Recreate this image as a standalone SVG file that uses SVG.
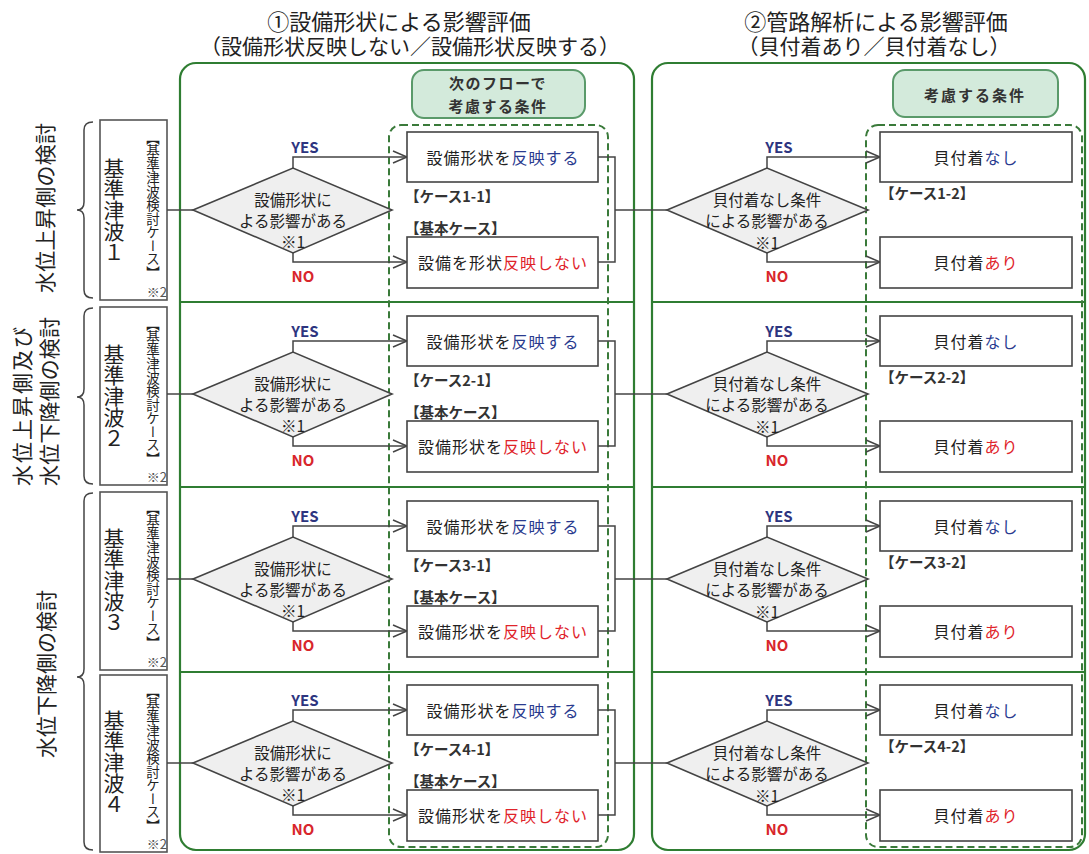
<svg xmlns="http://www.w3.org/2000/svg" width="1089" height="854" viewBox="0 0 1089 854">
<defs>
<style>
text{font-family:"Noto Sans CJK JP","Noto Sans",sans-serif;fill:#222;}
.title{font-size:22px;text-anchor:middle;}
.sub{font-size:21px;text-anchor:middle;}
.panel{fill:none;stroke:#2f7d32;stroke-width:2.2;}
.sep{stroke:#2f7d32;stroke-width:2.2;}
.dash{fill:none;stroke:#3a7a3a;stroke-width:2;stroke-dasharray:7 4;}
.hdr{fill:#d3eadb;stroke:#5a9a6a;stroke-width:2;}
.hdrt{font-size:15px;font-weight:bold;text-anchor:middle;dominant-baseline:central;fill:#333;letter-spacing:1.5px;}
.lbox{fill:#fff;stroke:#555;stroke-width:1.6;}
.brace{fill:none;stroke:#444;stroke-width:1.5;}
.side{font-size:21px;dominant-baseline:central;}
.vbig{font-size:21px;writing-mode:vertical-rl;text-orientation:upright;text-anchor:middle;}
.vsm{font-size:13.5px;writing-mode:vertical-rl;text-orientation:upright;text-anchor:middle;}
.note{font-size:13px;fill:#555;text-anchor:end;}
.dia{fill:#efefef;stroke:#444;stroke-width:1.6;}
.dt{font-size:15.5px;text-anchor:middle;dominant-baseline:central;}
.box{fill:#fff;stroke:#444;stroke-width:1.6;}
.bt{font-size:16px;text-anchor:middle;dominant-baseline:central;letter-spacing:1px;}
.blue{fill:#2a3b8f;}
.red{fill:#e0242b;}
.case{font-size:14.5px;font-weight:bold;dominant-baseline:central;fill:#333;}
.yes{font-size:15px;font-weight:bold;fill:#2d3580;text-anchor:middle;}
.no{font-size:15px;font-weight:bold;fill:#d8262b;text-anchor:middle;}
.ln{fill:none;stroke:#444;stroke-width:1.5;}
.arr{fill:none;stroke:#444;stroke-width:1.5;marker-end:url(#chev);}
</style>
<marker id="chev" markerUnits="userSpaceOnUse" markerWidth="18" markerHeight="16" refX="15" refY="7" orient="auto">
<path d="M1,1 L15,7 L1,13" fill="none" stroke="#444" stroke-width="1.5"/>
</marker>
</defs>

<g id="titles">
<text class="title" x="399" y="30">①設備形状による影響評価</text>
<text class="sub" x="410" y="54">（設備形状反映しない／設備形状反映する）</text>
<text class="title" x="876" y="30">②管路解析による影響評価</text>
<text class="sub" x="874" y="54">（貝付着あり／貝付着なし）</text>
</g>

<g id="panels">
<rect class="panel" x="180" y="63" width="454" height="787" rx="16"/>
<rect class="panel" x="652" y="63" width="433" height="787" rx="16"/>
<line class="sep" x1="180" y1="302" x2="634" y2="302"/>
<line class="sep" x1="180" y1="487" x2="634" y2="487"/>
<line class="sep" x1="180" y1="672" x2="634" y2="672"/>
<line class="sep" x1="652" y1="302" x2="1085" y2="302"/>
<line class="sep" x1="652" y1="487" x2="1085" y2="487"/>
<line class="sep" x1="652" y1="672" x2="1085" y2="672"/>
<rect class="dash" x="389" y="125" width="219" height="722" rx="12"/>
<rect class="dash" x="866" y="125" width="216" height="722" rx="12"/>
</g>

<g id="hdr-left">
<rect class="hdr" x="412" y="70" width="173" height="48" rx="12"/>
<text class="hdrt" x="498" y="82">次のフローで</text>
<text class="hdrt" x="498" y="105">考慮する条件</text>
</g>
<g id="hdr-right">
<rect class="hdr" x="893" y="70" width="165" height="47" rx="12"/>
<text class="hdrt" x="975" y="94" style="letter-spacing:2px">考慮する条件</text>
</g>

<g id="side-labels">
<path class="brace" d="M93,122 Q84,122 84,130 V202 Q84,210 77,210 Q84,210 84,218 V290 Q84,298 93,298"/>
<text class="side" transform="translate(44,293) rotate(-90)" textLength="170">水位上昇側の検討</text>
<path class="brace" d="M93,308 Q84,308 84,316 V389 Q84,397 77,397 Q84,397 84,405 V476 Q84,484 93,484"/>
<text class="side" transform="translate(21,486) rotate(-90)" textLength="159">水位上昇側及び</text>
<text class="side" transform="translate(48,486) rotate(-90)" textLength="169">水位下降側の検討</text>
<path class="brace" d="M93,493 Q84,493 84,501 V669 Q84,677 77,677 Q84,677 84,685 V842 Q84,850 93,850"/>
<text class="side" transform="translate(45,758) rotate(-90)" textLength="168">水位下降側の検討</text>
</g>

<g id="wave1">
<rect class="lbox" x="100" y="120" width="67" height="180"/>
<text class="vbig" x="114" y="210">基準津波１</text>
<text class="vsm" x="153" y="205">【基準津波検討ケース】</text>
<text class="note" x="167" y="297">※2</text>
</g>
<g id="wave2">
<rect class="lbox" x="100" y="307" width="67" height="178"/>
<text class="vbig" x="114" y="396">基準津波２</text>
<text class="vsm" x="153" y="391">【基準津波検討ケース】</text>
<text class="note" x="167" y="482">※2</text>
</g>
<g id="wave3">
<rect class="lbox" x="100" y="492" width="67" height="178"/>
<text class="vbig" x="114" y="580">基準津波３</text>
<text class="vsm" x="153" y="575">【基準津波検討ケース】</text>
<text class="note" x="167" y="667">※2</text>
</g>
<g id="wave4">
<rect class="lbox" x="100" y="675" width="67" height="177"/>
<text class="vbig" x="114" y="762">基準津波４</text>
<text class="vsm" x="153" y="758">【基準津波検討ケース】</text>
<text class="note" x="167" y="849">※2</text>
</g>

<g id="connectors">
<path class="ln" d="M167,210 H193"/>
<path class="arr" d="M293,168 V157 H407"/>
<path class="arr" d="M293,253 V262 H407"/>
<path class="ln" d="M598,157 H615 V262 H598 M615,210 H667"/>
<path class="arr" d="M767,168 V157 H880"/>
<path class="arr" d="M767,253 V262 H880"/>
<path class="ln" d="M167,394 H193"/>
<path class="arr" d="M293,352 V341 H407"/>
<path class="arr" d="M293,437 V446 H407"/>
<path class="ln" d="M598,341 H615 V446 H598 M615,394 H667"/>
<path class="arr" d="M767,352 V341 H880"/>
<path class="arr" d="M767,437 V446 H880"/>
<path class="ln" d="M167,579 H193"/>
<path class="arr" d="M293,537 V526 H407"/>
<path class="arr" d="M293,622 V631 H407"/>
<path class="ln" d="M598,526 H615 V631 H598 M615,579 H667"/>
<path class="arr" d="M767,537 V526 H880"/>
<path class="arr" d="M767,622 V631 H880"/>
<path class="ln" d="M167,763 H193"/>
<path class="arr" d="M293,721 V710 H407"/>
<path class="arr" d="M293,806 V815 H407"/>
<path class="ln" d="M598,710 H615 V815 H598 M615,763 H667"/>
<path class="arr" d="M767,721 V710 H880"/>
<path class="arr" d="M767,806 V815 H880"/>
</g>

<g id="labels">
<text class="yes" x="305" y="153">YES</text><text class="no" x="303" y="282">NO</text>
<text class="yes" x="779" y="153">YES</text><text class="no" x="777" y="282">NO</text>
<text class="yes" x="305" y="337">YES</text><text class="no" x="303" y="466">NO</text>
<text class="yes" x="779" y="337">YES</text><text class="no" x="777" y="466">NO</text>
<text class="yes" x="305" y="522">YES</text><text class="no" x="303" y="651">NO</text>
<text class="yes" x="779" y="522">YES</text><text class="no" x="777" y="651">NO</text>
<text class="yes" x="305" y="706">YES</text><text class="no" x="303" y="835">NO</text>
<text class="yes" x="779" y="706">YES</text><text class="no" x="777" y="835">NO</text>
</g>

<g id="dec1-1">
<polygon class="dia" points="193,210 293,168 392,210 293,253"/>
<text class="dt" x="293" y="199">設備形状に</text>
<text class="dt" x="293" y="220">よる影響がある</text>
<text class="dt" x="293" y="241">※1</text>
</g>
<g id="case1-1">
<rect class="box" x="407" y="132" width="191" height="50"/>
<text class="bt" x="503" y="157">設備形状を<tspan class="blue">反映する</tspan></text>
<text class="case" x="405" y="195">【ケース1-1】</text>
</g>
<g id="base1">
<text class="case" x="405" y="227">【基本ケース】</text>
<rect class="box" x="407" y="237" width="191" height="51"/>
<text class="bt" x="503" y="262">設備を形状<tspan class="red">反映しない</tspan></text>
</g>
<g id="dec1-2">
<polygon class="dia" points="667,210 767,168 868,210 767,253"/>
<text class="dt" x="767" y="199">貝付着なし条件</text>
<text class="dt" x="767" y="220">による影響がある</text>
<text class="dt" x="767" y="242">※1</text>
</g>
<g id="case1-2">
<rect class="box" x="880" y="132" width="192" height="50"/>
<text class="bt" x="976" y="157">貝付着<tspan class="blue">なし</tspan></text>
<text class="case" x="880" y="192">【ケース1-2】</text>
</g>
<g id="shell1">
<rect class="box" x="880" y="237" width="192" height="51"/>
<text class="bt" x="976" y="262">貝付着<tspan class="red">あり</tspan></text>
</g>

<g id="dec2-1">
<polygon class="dia" points="193,394 293,352 392,394 293,437"/>
<text class="dt" x="293" y="383">設備形状に</text>
<text class="dt" x="293" y="404">よる影響がある</text>
<text class="dt" x="293" y="425">※1</text>
</g>
<g id="case2-1">
<rect class="box" x="407" y="316" width="191" height="50"/>
<text class="bt" x="503" y="341">設備形状を<tspan class="blue">反映する</tspan></text>
<text class="case" x="405" y="379">【ケース2-1】</text>
</g>
<g id="base2">
<text class="case" x="405" y="411">【基本ケース】</text>
<rect class="box" x="407" y="421" width="191" height="51"/>
<text class="bt" x="503" y="446">設備形状を<tspan class="red">反映しない</tspan></text>
</g>
<g id="dec2-2">
<polygon class="dia" points="667,394 767,352 868,394 767,437"/>
<text class="dt" x="767" y="383">貝付着なし条件</text>
<text class="dt" x="767" y="404">による影響がある</text>
<text class="dt" x="767" y="426">※1</text>
</g>
<g id="case2-2">
<rect class="box" x="880" y="316" width="192" height="50"/>
<text class="bt" x="976" y="341">貝付着<tspan class="blue">なし</tspan></text>
<text class="case" x="880" y="376">【ケース2-2】</text>
</g>
<g id="shell2">
<rect class="box" x="880" y="421" width="192" height="51"/>
<text class="bt" x="976" y="446">貝付着<tspan class="red">あり</tspan></text>
</g>

<g id="dec3-1">
<polygon class="dia" points="193,579 293,537 392,579 293,622"/>
<text class="dt" x="293" y="568">設備形状に</text>
<text class="dt" x="293" y="589">よる影響がある</text>
<text class="dt" x="293" y="610">※1</text>
</g>
<g id="case3-1">
<rect class="box" x="407" y="501" width="191" height="50"/>
<text class="bt" x="503" y="526">設備形状を<tspan class="blue">反映する</tspan></text>
<text class="case" x="405" y="564">【ケース3-1】</text>
</g>
<g id="base3">
<text class="case" x="405" y="596">【基本ケース】</text>
<rect class="box" x="407" y="606" width="191" height="51"/>
<text class="bt" x="503" y="631">設備形状を<tspan class="red">反映しない</tspan></text>
</g>
<g id="dec3-2">
<polygon class="dia" points="667,579 767,537 868,579 767,622"/>
<text class="dt" x="767" y="568">貝付着なし条件</text>
<text class="dt" x="767" y="589">による影響がある</text>
<text class="dt" x="767" y="611">※1</text>
</g>
<g id="case3-2">
<rect class="box" x="880" y="501" width="192" height="50"/>
<text class="bt" x="976" y="526">貝付着<tspan class="blue">なし</tspan></text>
<text class="case" x="880" y="561">【ケース3-2】</text>
</g>
<g id="shell3">
<rect class="box" x="880" y="606" width="192" height="51"/>
<text class="bt" x="976" y="631">貝付着<tspan class="red">あり</tspan></text>
</g>

<g id="dec4-1">
<polygon class="dia" points="193,763 293,721 392,763 293,806"/>
<text class="dt" x="293" y="752">設備形状に</text>
<text class="dt" x="293" y="773">よる影響がある</text>
<text class="dt" x="293" y="794">※1</text>
</g>
<g id="case4-1">
<rect class="box" x="407" y="685" width="191" height="50"/>
<text class="bt" x="503" y="710">設備形状を<tspan class="blue">反映する</tspan></text>
<text class="case" x="405" y="748">【ケース4-1】</text>
</g>
<g id="base4">
<text class="case" x="405" y="780">【基本ケース】</text>
<rect class="box" x="407" y="790" width="191" height="51"/>
<text class="bt" x="503" y="815">設備形状を<tspan class="red">反映しない</tspan></text>
</g>
<g id="dec4-2">
<polygon class="dia" points="667,763 767,721 868,763 767,806"/>
<text class="dt" x="767" y="752">貝付着なし条件</text>
<text class="dt" x="767" y="773">による影響がある</text>
<text class="dt" x="767" y="795">※1</text>
</g>
<g id="case4-2">
<rect class="box" x="880" y="685" width="192" height="50"/>
<text class="bt" x="976" y="710">貝付着<tspan class="blue">なし</tspan></text>
<text class="case" x="880" y="745">【ケース4-2】</text>
</g>
<g id="shell4">
<rect class="box" x="880" y="790" width="192" height="51"/>
<text class="bt" x="976" y="815">貝付着<tspan class="red">あり</tspan></text>
</g>
</svg>
